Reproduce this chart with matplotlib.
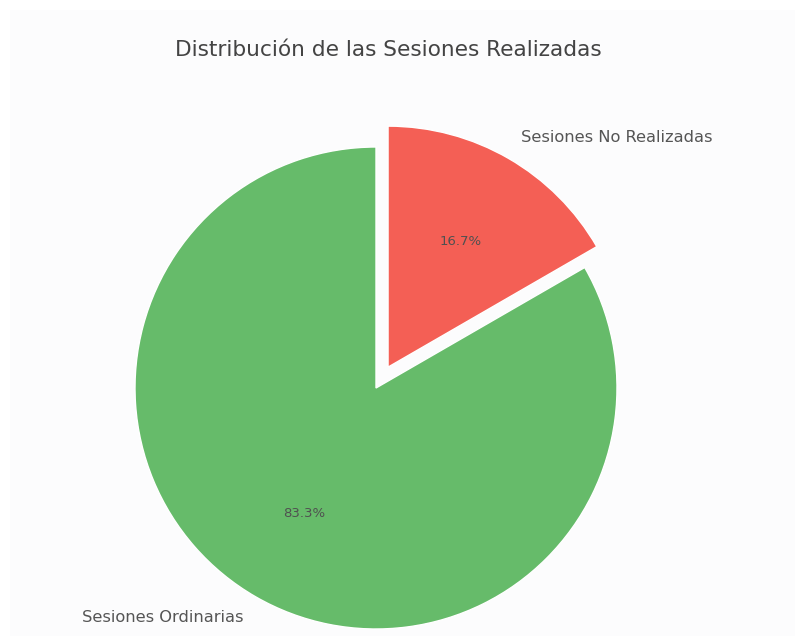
import matplotlib
matplotlib.use("Agg")
import matplotlib.pyplot as plt
from matplotlib.patches import Rectangle

labels = ["Sesiones Ordinarias", "Sesiones No Realizadas"]
values = [5, 1]
colors = ["#66BB6A", "#F45F55"]
explode = [0, 0.1]
title = "Distribución de las Sesiones Realizadas"

W, H = 798, 636
fig = plt.figure(figsize=(W / 100, H / 100), dpi=100, facecolor="white")
fig.patches.append(Rectangle((10 / W, 0), 1 - 13 / W, 1 - 10 / H, transform=fig.transFigure,
                             facecolor="#FCFCFD", edgecolor="none", zorder=-10))

r = 241.0
cx, cy = 376.0, H - 388.0
x0, x1 = -1.3, 1.3
y0, y1 = -1.02, 1.3
ax = fig.add_axes([(cx + x0 * r) / W, (cy + y0 * r) / H, (x1 - x0) * r / W, (y1 - y0) * r / H])
ax.set_facecolor("none")

wedges, texts, autotexts = ax.pie(
    values, labels=labels, colors=colors, explode=explode, startangle=90,
    autopct="%1.1f%%", pctdistance=0.6, labeldistance=1.1,
    wedgeprops=dict(edgecolor="white", linewidth=1),
    textprops=dict(color="#555555", fontsize=11.7, family="DejaVu Sans"),
)
for t in autotexts:
    t.set_fontsize(9.5)
    t.set_color("#505050")
ax.set_xlim(x0, x1)
ax.set_ylim(y0, y1)
ax.set_aspect("auto")
ax.axis("off")

fig.text(388 / W, 1 - 50 / H, title, ha="center", va="center", fontsize=15.6, color="#444444")

fig.savefig("out.png", dpi=100, facecolor=fig.get_facecolor())
